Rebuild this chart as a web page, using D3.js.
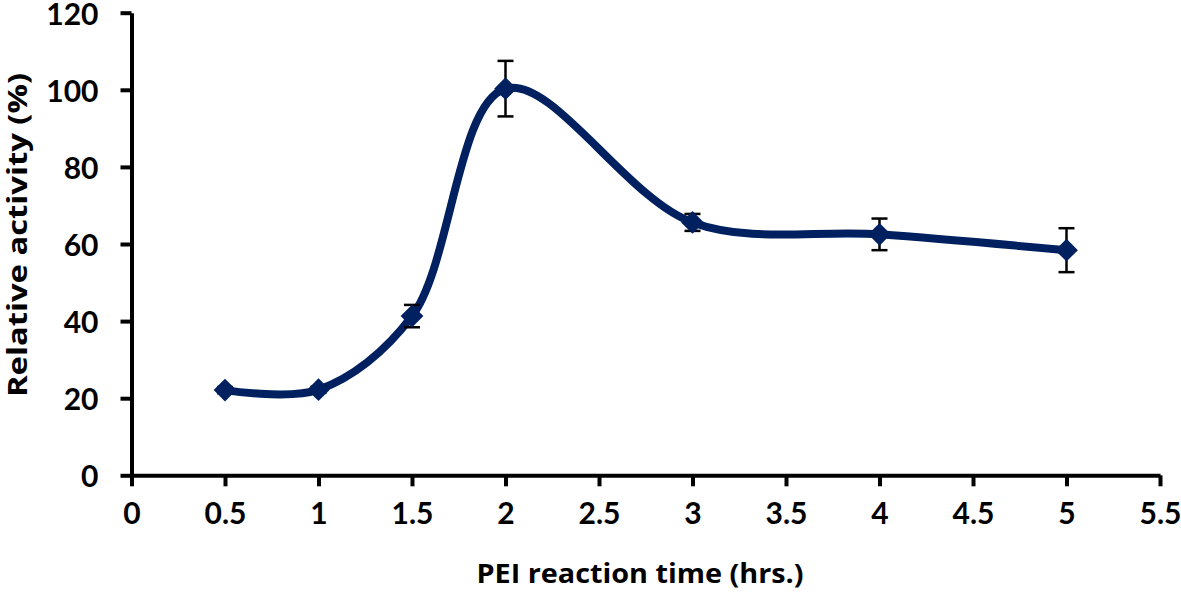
<!DOCTYPE html>
<html>
<head>
<meta charset="utf-8">
<script src="https://cdn.jsdelivr.net/npm/d3@7"></script>
<style>
  body { margin: 0; background: #fff; }
  text { font-family: Lato, "Open Sans", sans-serif; font-weight: bold; fill: #000; }
  .title { font-family: "Open Sans", Lato, sans-serif; }
</style>
</head>
<body>
<div id="chart"></div>
<script>
// data
const times = [0.5, 1, 1.5, 2, 3, 4, 5];
const activity = [22.1, 22.2, 41.3, 100.3, 65.6, 62.5, 58.4];
const errors = [0.8, 0.8, 2.9, 7.2, 2.2, 4.1, 5.7];
const xTicks = [0, 0.5, 1, 1.5, 2, 2.5, 3, 3.5, 4, 4.5, 5, 5.5];
const yTicks = [0, 20, 40, 60, 80, 100, 120];

function renderChart() {
  const width = 1181;
  const height = 592;
  const margin = { left: 131.5, right: 21, top: 12.7, bottom: 116.7 };
  const navy = "#002060";

  const svg = d3.select("#chart")
    .append("svg")
    .attr("width", width)
    .attr("height", height);

  const x = d3.scaleLinear().domain([0, 5.5]).range([margin.left, width - margin.right]);
  const y = d3.scaleLinear().domain([0, 120]).range([height - margin.bottom, margin.top]);

  // axes
  const xAxis = svg.append("g")
    .attr("transform", `translate(0,${y(0)})`)
    .call(d3.axisBottom(x).tickValues(xTicks).tickSize(11).tickPadding(16).tickSizeOuter(0)
      .tickFormat(d => d3.format("")(d)));
  const yAxis = svg.append("g")
    .attr("transform", `translate(${x(0)},0)`)
    .call(d3.axisLeft(y).tickValues(yTicks).tickSize(11).tickPadding(22).tickSizeOuter(0));

  [xAxis, yAxis].forEach(g => {
    g.select(".domain").attr("stroke", "#000").attr("stroke-width", 4);
    g.selectAll(".tick line").attr("stroke", "#000").attr("stroke-width", 4);
    g.selectAll(".tick text").style("font-size", "30px").attr("fill", "#000");
  });
  yAxis.selectAll(".tick text").attr("dy", "0.38em");

  // smoothed line
  const line = d3.line()
    .x((d, i) => x(times[i]))
    .y(d => y(d))
    .curve(d3.curveCatmullRom.alpha(0.5));

  svg.append("path")
    .datum(activity)
    .attr("d", line)
    .attr("fill", "none")
    .attr("stroke", navy)
    .attr("stroke-width", 8);

  // error bars
  const eb = svg.append("g").attr("stroke", "#000").attr("stroke-width", 2.5);
  times.forEach((t, i) => {
    const cx = x(t), hi = y(activity[i] + errors[i]), lo = y(activity[i] - errors[i]);
    eb.append("line").attr("x1", cx).attr("x2", cx).attr("y1", hi).attr("y2", lo);
    eb.append("line").attr("x1", cx - 8).attr("x2", cx + 8).attr("y1", hi).attr("y2", hi);
    eb.append("line").attr("x1", cx - 8).attr("x2", cx + 8).attr("y1", lo).attr("y2", lo);
  });

  // diamond markers
  svg.selectAll(".marker")
    .data(activity)
    .enter()
    .append("path")
    .attr("class", "marker")
    .attr("d", d3.symbol().type(d3.symbolDiamond2).size(330))
    .attr("transform", (d, i) => `translate(${x(times[i])},${y(d)})`)
    .attr("fill", navy);

  // axis titles
  svg.append("text")
    .attr("class", "title")
    .attr("x", 640)
    .attr("y", 583)
    .attr("text-anchor", "middle")
    .attr("textLength", 327)
    .attr("lengthAdjust", "spacingAndGlyphs")
    .style("font-size", "26px")
    .text("PEI reaction time (hrs.)");

  svg.append("text")
    .attr("class", "title")
    .attr("transform", "translate(27,235) rotate(-90)")
    .attr("text-anchor", "middle")
    .attr("textLength", 324)
    .attr("lengthAdjust", "spacingAndGlyphs")
    .style("font-size", "26px")
    .text("Relative activity (%)");
}

renderChart();
</script>
</body>
</html>
